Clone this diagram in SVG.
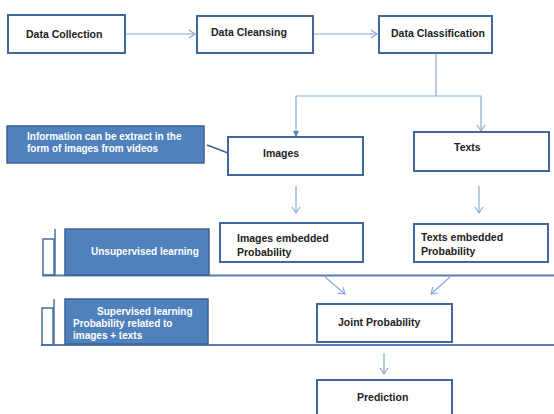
<svg xmlns="http://www.w3.org/2000/svg" width="554" height="414" viewBox="0 0 554 414">
<defs>
<marker id="arr" markerWidth="10" markerHeight="10" refX="8" refY="5" orient="auto" markerUnits="userSpaceOnUse">
<path d="M2,1 L8,5 L2,9" fill="none" stroke="#8aa9d8" stroke-width="1.2"/>
</marker>
<marker id="tri" markerWidth="8" markerHeight="8" refX="6" refY="4" orient="auto" markerUnits="userSpaceOnUse">
<path d="M1,1 L7,4 L1,7 Z" fill="#5b82c0"/>
</marker>
</defs>
<style>
.box{fill:#fff;stroke:#41679b;stroke-width:2}
.blue{fill:#4f81bd;stroke:#3b6395;stroke-width:1.5}
.brk{fill:none;stroke:#4a6fa3;stroke-width:1.5}
.hl{stroke:#5a7db2;stroke-width:2.2;fill:none}
.c{fill:none;stroke:#8aa9d8;stroke-width:1.2}
text{font-family:"Liberation Sans",Arial,sans-serif;font-weight:bold;font-size:10.5px;fill:#222}
.w{fill:#fff;font-size:10px}
</style>
<rect width="554" height="414" fill="#fff"/>
<g id="connectors">
<line class="c" x1="125" y1="34" x2="195" y2="34" marker-end="url(#arr)"/>
<line class="c" x1="313" y1="34" x2="377" y2="34" marker-end="url(#arr)"/>
<polyline class="c" points="436,53 436,96 296,96 296,136" marker-end="url(#tri)"/>
<polyline class="c" points="436,96 481,96 481,131" marker-end="url(#arr)"/>
<line x1="207" y1="145" x2="228" y2="153" stroke="#3b6395" stroke-width="1.5"/>
<line class="c" x1="296" y1="186" x2="296" y2="213" marker-end="url(#arr)"/>
<line class="c" x1="479" y1="186" x2="479" y2="213" marker-end="url(#arr)"/>
<line class="c" x1="325" y1="277" x2="345" y2="294" marker-end="url(#arr)"/>
<line class="c" x1="450" y1="277" x2="431" y2="294" marker-end="url(#arr)"/>
<line class="c" x1="384" y1="353" x2="384" y2="374" marker-end="url(#arr)"/>
</g>
<g id="lines">
<line class="hl" x1="42" y1="275.5" x2="554" y2="275.5"/>
<line class="hl" x1="41" y1="345" x2="554" y2="345"/>
</g>
<g id="data-collection"><rect class="box" x="8" y="15" width="117" height="38"/><text x="26" y="38">Data Collection</text></g>
<g id="data-cleansing"><rect class="box" x="197" y="16" width="116" height="37"/><text x="211" y="36">Data Cleansing</text></g>
<g id="data-classification"><rect class="box" x="379" y="16" width="113" height="37"/><text x="391" y="37">Data Classification</text></g>
<g id="info"><rect class="blue" x="7" y="126" width="197" height="37"/><text class="w" x="27" y="140">Information can be extract in the</text><text class="w" x="27" y="152">form of images from videos</text></g>
<g id="images"><rect class="box" x="228" y="137" width="135" height="38"/><text x="263" y="157">Images</text></g>
<g id="texts"><rect class="box" x="414" y="132" width="135" height="39"/><text x="454" y="151">Texts</text></g>
<g id="unsupervised"><rect class="brk" x="43" y="239" width="11" height="36"/><line class="brk" x1="55" y1="229" x2="55" y2="275"/><rect class="blue" x="65" y="229" width="144" height="46"/><text class="w" x="91" y="255">Unsupervised learning</text></g>
<g id="images-embedded"><rect class="box" x="220" y="223" width="143" height="39"/><text x="237" y="242">Images embedded</text><text x="237" y="256">Probability</text></g>
<g id="texts-embedded"><rect class="box" x="414" y="224" width="134" height="38"/><text x="421" y="241">Texts embedded</text><text x="421" y="255">Probability</text></g>
<g id="supervised"><rect class="brk" x="42" y="308" width="11" height="37"/><line class="brk" x1="54" y1="299" x2="54" y2="345"/><rect class="blue" x="65" y="299" width="143" height="45"/><text class="w" x="97" y="315">Supervised learning</text><text class="w" x="73" y="327">Probability related to</text><text class="w" x="73" y="339">images + texts</text></g>
<g id="joint"><rect class="box" x="317" y="304" width="135" height="38"/><text x="338" y="326">Joint Probability</text></g>
<g id="prediction"><rect class="box" x="317" y="380" width="135" height="40"/><text x="357" y="401">Prediction</text></g>
</svg>
